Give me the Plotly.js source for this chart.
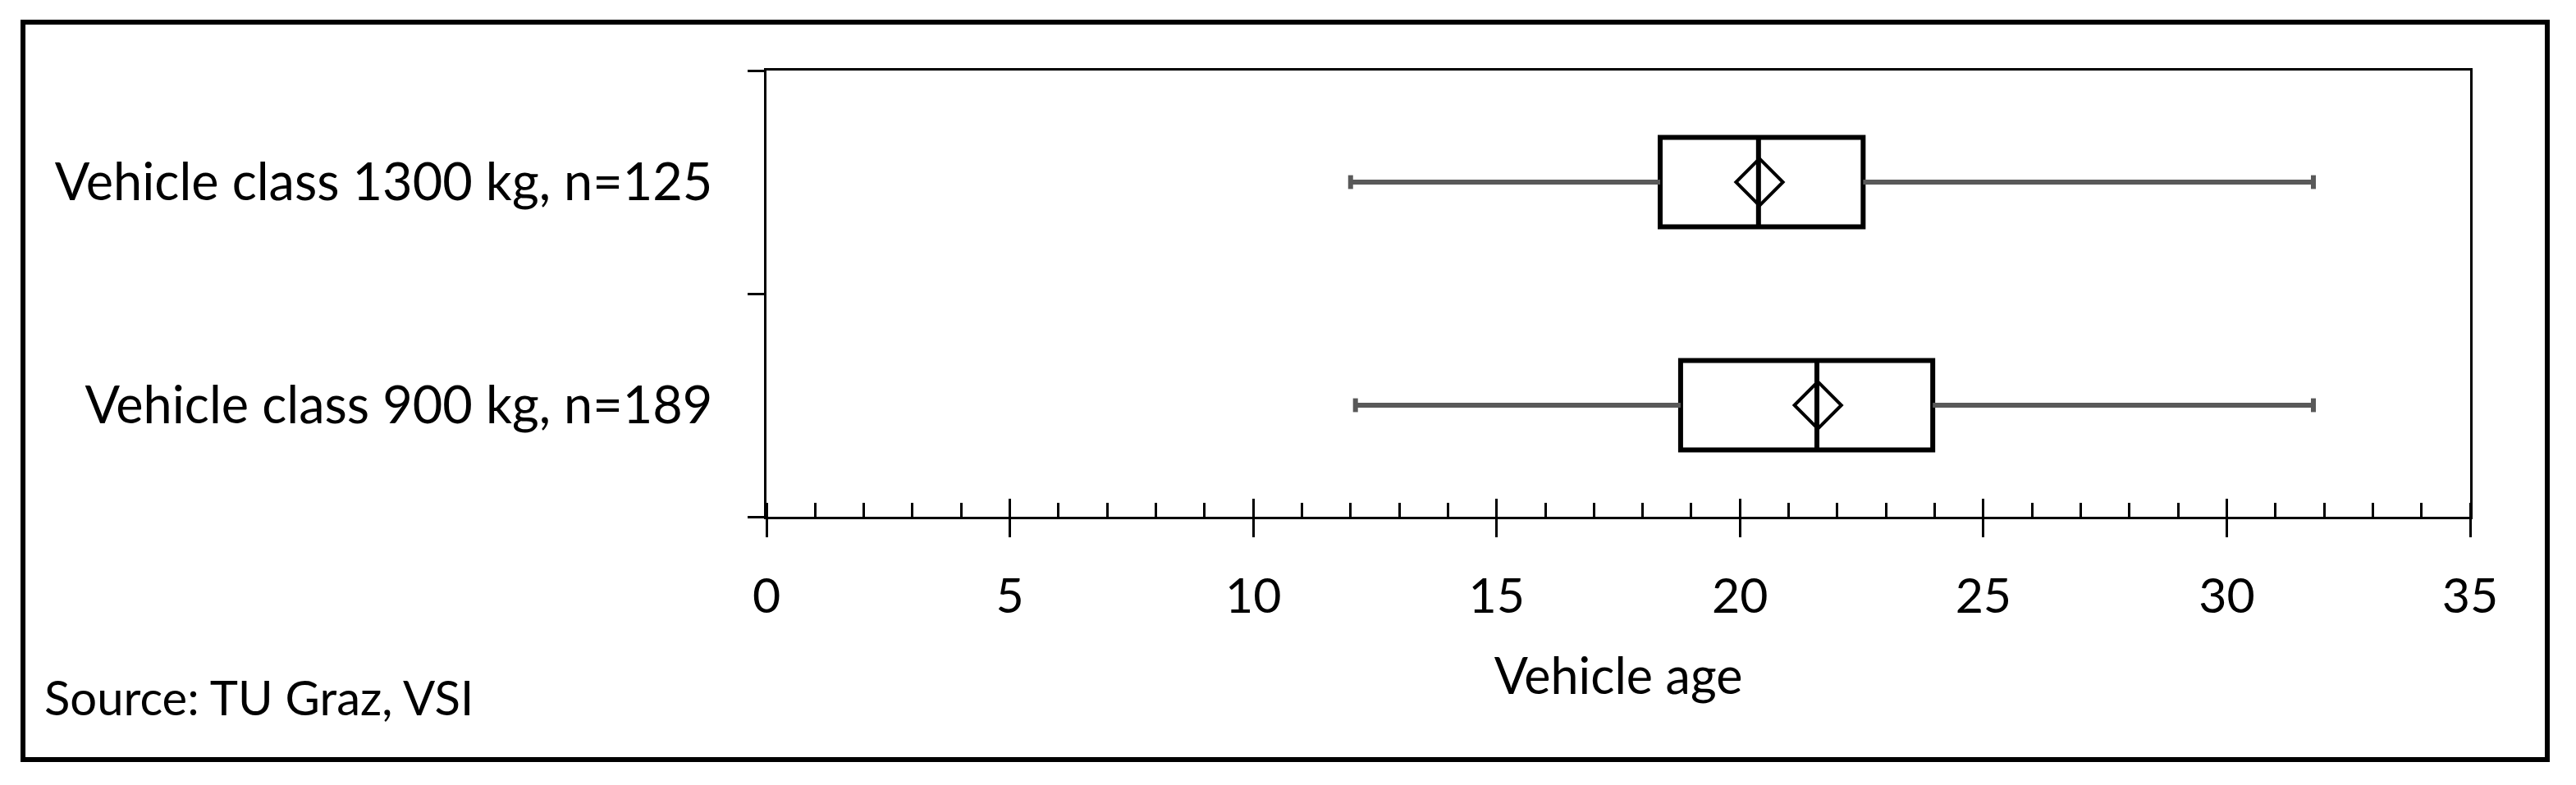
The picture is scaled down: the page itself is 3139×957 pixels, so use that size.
<!DOCTYPE html>
<html>
<head>
<meta charset="utf-8">
<script src="https://cdn.plot.ly/plotly-3.0.1.min.js"></script>
<style>
  html, body { margin: 0; padding: 0; background: #ffffff; }
  #wrap { position: relative; width: 3139px; height: 957px; overflow: hidden; }
  #chart { position: absolute; left: 0; top: 0; width: 3139px; height: 957px; }
  #frame { position: absolute; left: 25px; top: 24px; width: 3082px; height: 905px;
           box-sizing: border-box; border: 6px solid #000; pointer-events: none; }
</style>
</head>
<body>
<div id="wrap">
  <div id="chart"></div>
  <div id="frame"></div>
</div>
<script>
// ---- data (bottom category first) ----
const categories   = ['Vehicle class 900 kg, n=189', 'Vehicle class 1300 kg, n=125'];
const lowerWhisker = [12.1, 12.0];
const q1           = [18.78, 18.36];
const median       = [21.58, 20.38];
const q3           = [23.96, 22.53];
const upperWhisker = [31.78, 31.78];
const meanValues   = [21.6, 20.4];
const xTickValues  = [0, 5, 10, 15, 20, 25, 30, 35];
const xTitle       = 'Vehicle age';
const sourceText   = 'Source: TU Graz, VSI';

const FONT = 'Lato, "Open Sans", sans-serif';
const WHISKER = '#595959';

// whisker segments built from the data
const wx = [], wy = [];
categories.forEach(function (c, i) {
  wx.push(lowerWhisker[i], q1[i], null, q3[i], upperWhisker[i], null);
  wy.push(c, c, null, c, c, null);
});
const capX = lowerWhisker.concat(upperWhisker);
const capY = categories.concat(categories);

const traces = [
  {
    type: 'box', orientation: 'h',
    y: categories,
    q1: q1, median: median, q3: q3,
    lowerfence: q1, upperfence: q3,
    width: 0.4, whiskerwidth: 0,
    boxpoints: false,
    fillcolor: '#ffffff',
    line: { color: '#000000', width: 6 },
    hoverinfo: 'skip', showlegend: false
  },
  {
    type: 'scatter', mode: 'lines',
    x: wx, y: wy,
    line: { color: WHISKER, width: 6 },
    hoverinfo: 'skip', showlegend: false
  },
  {
    type: 'scatter', mode: 'markers',
    x: capX, y: capY, xaxis: 'x2',
    marker: { symbol: 'line-ns', size: 12, color: WHISKER, line: { color: WHISKER, width: 6 } },
    hoverinfo: 'skip', showlegend: false
  },
  {
    type: 'scatter', mode: 'markers',
    x: meanValues, y: categories,
    marker: { symbol: 'diamond-open', size: 44, color: '#000000', line: { color: '#000000', width: 4 } },
    hoverinfo: 'skip', showlegend: false
  }
];

const layout = {
  width: 3139, height: 957,
  margin: { l: 934, r: 129, t: 86, b: 327, pad: 0 },
  paper_bgcolor: '#ffffff', plot_bgcolor: '#ffffff',
  font: { family: FONT, size: 59, color: '#000000' },
  showlegend: false,
  xaxis: {
    range: [0, 35], tickmode: 'array', tickvals: xTickValues,
    ticks: 'outside', ticklen: 22, tickwidth: 3, tickcolor: '#000',
    minor: { ticks: 'inside', dtick: 1, tick0: 0, ticklen: 17, tickwidth: 3, tickcolor: '#000', showgrid: false },
    showline: true, linewidth: 3, linecolor: '#000', mirror: true,
    showgrid: false, zeroline: false,
    tickfont: { family: FONT, size: 59, color: '#000' },
    ticklabelstandoff: 21,
    title: { text: xTitle, font: { family: FONT, size: 61, color: '#000' }, standoff: 45 }
  },
  xaxis2: {
    overlaying: 'x', anchor: 'y', side: 'bottom',
    range: [0, 35], tickmode: 'array', tickvals: xTickValues,
    ticks: 'inside', ticklen: 22, tickwidth: 3, tickcolor: '#000',
    showticklabels: false, showline: false, showgrid: false, zeroline: false
  },
  yaxis: {
    type: 'category', categoryorder: 'array', categoryarray: categories,
    range: [-0.5, 1.5], tickson: 'boundaries',
    ticks: 'outside', ticklen: 20, tickwidth: 3, tickcolor: '#000',
    showline: true, linewidth: 3, linecolor: '#000', mirror: true,
    showgrid: false, zeroline: false,
    tickfont: { family: FONT, size: 63, color: '#000' },
    ticklabelstandoff: 50
  },
  annotations: [
    { text: sourceText, xref: 'paper', yref: 'paper', x: -0.425, y: -0.4026,
      xanchor: 'left', yanchor: 'middle', showarrow: false,
      font: { family: FONT, size: 58, color: '#000' } }
  ]
};

Plotly.newPlot('chart', traces, layout, { displayModeBar: false, staticPlot: true });
</script>
</body>
</html>
